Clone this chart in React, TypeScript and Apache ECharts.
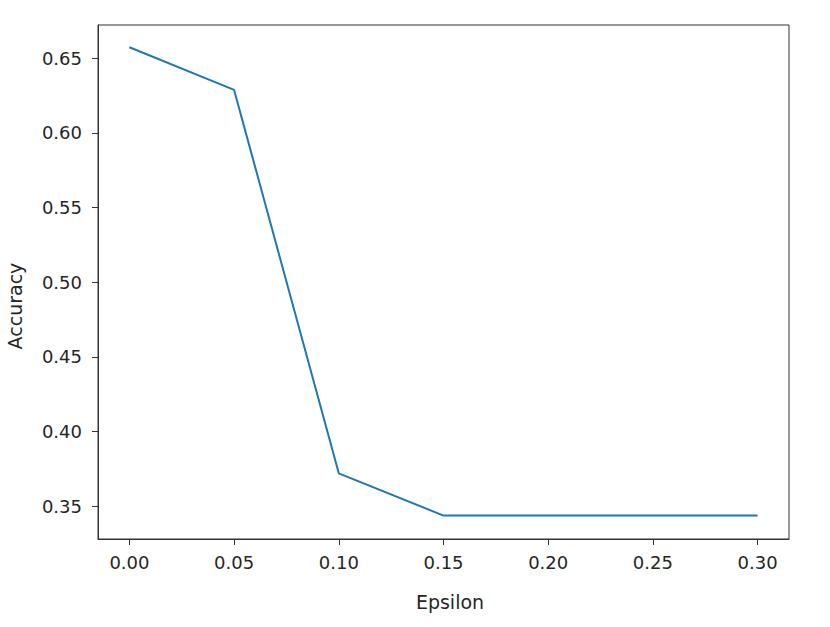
import React, { useEffect, useRef } from "react";
import * as echarts from "echarts";

const epsilons = [0.0, 0.05, 0.1, 0.15, 0.2, 0.25, 0.3];
const accuracies = [0.6574, 0.6288, 0.3719, 0.3436, 0.3436, 0.3436, 0.3436];
const xTicks = [0.0, 0.05, 0.1, 0.15, 0.2, 0.25, 0.3];
const yTicks = [0.35, 0.4, 0.45, 0.5, 0.55, 0.6, 0.65];
const xLabel = "Epsilon";
const yLabel = "Accuracy";

export default function App() {
  const ref = useRef<HTMLDivElement>(null);
  useEffect(() => {
    if (!ref.current) return;
    const chart = echarts.init(ref.current, null, { renderer: "svg" });
    const font = "DejaVu Sans";
    const textColor = "#262626";
    const axisColor = "#333333";
    chart.setOption({
      animation: false,
      backgroundColor: "#ffffff",
      grid: {
        left: 98,
        top: 25,
        right: 41,
        bottom: 88,
        show: true,
        borderColor: axisColor,
        borderWidth: 1,
        backgroundColor: "transparent",
      },
      xAxis: {
        type: "value",
        min: -0.015,
        max: 0.315,
        axisLine: { show: true, onZero: false, lineStyle: { color: axisColor, width: 1 } },
        axisTick: {
          show: true,
          length: 6,
          inside: false,
          customValues: xTicks,
          lineStyle: { color: axisColor, width: 1 },
        },
        axisLabel: {
          customValues: xTicks,
          formatter: (v: number) => v.toFixed(2),
          fontFamily: font,
          fontSize: 18,
          color: textColor,
          margin: 14,
        },
        splitLine: { show: false },
      },
      yAxis: {
        type: "value",
        min: 0.3279,
        max: 0.6723,
        axisLine: { show: true, onZero: false, lineStyle: { color: axisColor, width: 1 } },
        axisTick: {
          show: true,
          length: 6,
          inside: false,
          customValues: yTicks,
          lineStyle: { color: axisColor, width: 1 },
        },
        axisLabel: {
          customValues: yTicks,
          formatter: (v: number) => v.toFixed(2),
          fontFamily: font,
          fontSize: 18,
          color: textColor,
          margin: 16,
        },
        splitLine: { show: false },
      },
      graphic: [
        {
          type: "text",
          x: 450,
          y: 602,
          style: {
            text: xLabel,
            font: `19px "${font}"`,
            fill: textColor,
            textAlign: "center",
            textVerticalAlign: "middle",
          },
        },
        {
          type: "text",
          x: 15,
          y: 306,
          rotation: Math.PI / 2,
          style: {
            text: yLabel,
            font: `19px "${font}"`,
            fill: textColor,
            textAlign: "center",
            textVerticalAlign: "middle",
          },
        },
      ],
      series: [
        {
          type: "line",
          data: epsilons.map((e, i) => [e, accuracies[i]]),
          showSymbol: false,
          symbol: "none",
          lineStyle: { color: "#1f77b4", width: 2 },
        },
      ],
    });
    return () => chart.dispose();
  }, []);
  return (
    <div
      ref={ref}
      style={{ position: "fixed", left: 0, top: 0, width: 830, height: 627 }}
    />
  );
}
